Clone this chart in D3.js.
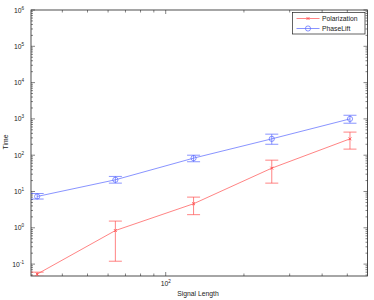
<!DOCTYPE html>
<html lang="en">
<head>
<meta charset="UTF-8">
<title>Time vs Signal Length</title>
<script src="https://d3js.org/d3.v7.min.js"></script>
<style>
  body { margin: 0; background: #fff; }
  text { font-family: "Liberation Sans", Arial, sans-serif; fill: #222; }
</style>
</head>
<body>
<svg id="svg" width="374" height="300"></svg>
<script>
    // data
    const lengths = [32, 64, 128, 256, 512];
    const polMean = [0.053, 0.84, 4.6, 44, 282];
    const polLow  = [0.046, 0.12, 2.3, 17, 147];
    const polHigh = [0.06, 1.53, 7.0, 73, 433];
    const plMean  = [7.3, 21, 83, 282, 1000];
    const plLow   = [6.2, 17, 66, 200, 760];
    const plHigh  = [8.8, 26, 100, 380, 1260];
    const yTicks = [-1, 0, 1, 2, 3, 4, 5, 6];
    const xTicks = [2];
    const seriesNames = ["Polarization", "PhaseLift"];

    const W = 374, H = 300;
    const m = { left: 31, right: 6.5, top: 10, bottom: 24 };
    const svg = d3.select("#svg");

    const x = d3.scaleLog().domain([30.3, 598]).range([m.left, W - m.right]);
    const y = d3.scaleLog().domain([0.047, 1e6]).range([H - m.bottom, m.top]);

    const x0 = m.left, x1 = W - m.right, y0 = H - m.bottom, y1 = m.top;

    svg.append("defs").append("clipPath").attr("id", "clip")
        .append("rect").attr("x", x0).attr("y", y1).attr("width", x1 - x0).attr("height", y0 - y1);

    // minor and major ticks (inside, on all four sides)
    const ax = svg.append("g").attr("stroke", "#333").attr("stroke-width", 0.6);
    const xMinor = [];
    for (let d = 10; d <= 1000; d *= 10)
        for (let k = 1; k < 10; k++) {
            const v = d * k;
            if (v > x.domain()[0] && v < x.domain()[1]) xMinor.push(v);
        }
    xMinor.forEach(v => {
        const len = (v === 100) ? 4 : 2.5;
        ax.append("line").attr("x1", x(v)).attr("x2", x(v)).attr("y1", y0).attr("y2", y0 - len);
        ax.append("line").attr("x1", x(v)).attr("x2", x(v)).attr("y1", y1).attr("y2", y1 + len);
    });
    const yMinor = [];
    for (let e = -2; e <= 6; e++)
        for (let k = 1; k < 10; k++) {
            const v = k * Math.pow(10, e);
            if (v > y.domain()[0] && v <= y.domain()[1]) yMinor.push({ v, major: k === 1 });
        }
    yMinor.forEach(t => {
        const len = t.major ? 4 : 2;
        ax.append("line").attr("y1", y(t.v)).attr("y2", y(t.v)).attr("x1", x0).attr("x2", x0 + len);
        ax.append("line").attr("y1", y(t.v)).attr("y2", y(t.v)).attr("x1", x1).attr("x2", x1 - len);
    });

    svg.append("rect").attr("x", x0).attr("y", y1).attr("width", x1 - x0).attr("height", y0 - y1)
        .attr("fill", "none").attr("stroke", "#222").attr("stroke-width", 0.8);

    // tick labels 10^n
    yTicks.forEach(e => {
        const t = svg.append("text").attr("x", x0 - 7).attr("y", y(Math.pow(10, e)) + 2.5)
            .attr("text-anchor", "end").attr("font-size", 6.8);
        t.append("tspan").text("10");
        t.append("tspan").attr("dy", -3).attr("font-size", 4.6).text(e < 0 ? "-1" : e);
    });
    xTicks.forEach(e => {
        const t = svg.append("text").attr("x", x(Math.pow(10, e)) - 5).attr("y", y0 + 10)
            .attr("font-size", 6.8);
        t.append("tspan").text("10");
        t.append("tspan").attr("dy", -3).attr("font-size", 4.6).text(e);
    });

    svg.append("text").attr("x", 198).attr("y", 296).attr("text-anchor", "middle")
        .attr("font-size", 6.8).text("Signal Length");
    svg.append("text").attr("transform", "translate(8,142) rotate(-90)").attr("text-anchor", "middle")
        .attr("font-size", 6.8).text("Time");

    const series = [
        { name: seriesNames[0], color: "#ff3030", mean: polMean, lo: polLow, hi: polHigh, mark: "x" },
        { name: seriesNames[1], color: "#3a4cff", mean: plMean, lo: plLow, hi: plHigh, mark: "o" }
    ];

    const plot = svg.append("g").attr("clip-path", "url(#clip)");
    const line = d3.line().x((d, i) => x(lengths[i])).y(d => y(d));
    const cap = 6.5;

    function drawMark(g, s, cx, cy) {
        if (s.mark === "o") {
            g.append("circle").attr("cx", cx).attr("cy", cy).attr("r", 2.6)
                .attr("fill", "none").attr("stroke", s.color).attr("stroke-width", 0.7);
        } else {
            const r = 1.4;
            g.append("path").attr("d", `M${cx - r},${cy - r}L${cx + r},${cy + r}M${cx - r},${cy + r}L${cx + r},${cy - r}`)
                .attr("stroke", s.color).attr("stroke-width", 0.9);
        }
    }

    series.forEach(s => {
        const g = plot.append("g").attr("opacity", 0.85);
        g.append("path").attr("d", line(s.mean)).attr("fill", "none")
            .attr("stroke", s.color).attr("stroke-width", 0.7);
        s.mean.forEach((v, i) => {
            const cx = x(lengths[i]);
            const ylo = y(s.lo[i]), yhi = y(s.hi[i]);
            g.append("line").attr("x1", cx).attr("x2", cx).attr("y1", ylo).attr("y2", yhi)
                .attr("stroke", s.color).attr("stroke-width", 0.7);
            [ylo, yhi].forEach(yy => g.append("line").attr("x1", cx - cap).attr("x2", cx + cap)
                .attr("y1", yy).attr("y2", yy).attr("stroke", s.color).attr("stroke-width", 0.7));
            drawMark(g, s, cx, y(v));
        });
    });

    // legend
    const lg = svg.append("g");
    lg.append("rect").attr("x", 292.5).attr("y", 12.5).attr("width", 72.5).attr("height", 21.5)
        .attr("fill", "#fff").attr("stroke", "#222").attr("stroke-width", 0.7);
    series.forEach((s, i) => {
        const yy = 18.5 + i * 10;
        const g = lg.append("g").attr("opacity", 0.85);
        g.append("line").attr("x1", 296.5).attr("x2", 319.5).attr("y1", yy).attr("y2", yy)
            .attr("stroke", s.color).attr("stroke-width", 0.7);
        drawMark(g, s, 308, yy);
        lg.append("text").attr("x", 322).attr("y", yy + 2.3).attr("font-size", 6.8).text(s.name);
    });
</script>
</body>
</html>
